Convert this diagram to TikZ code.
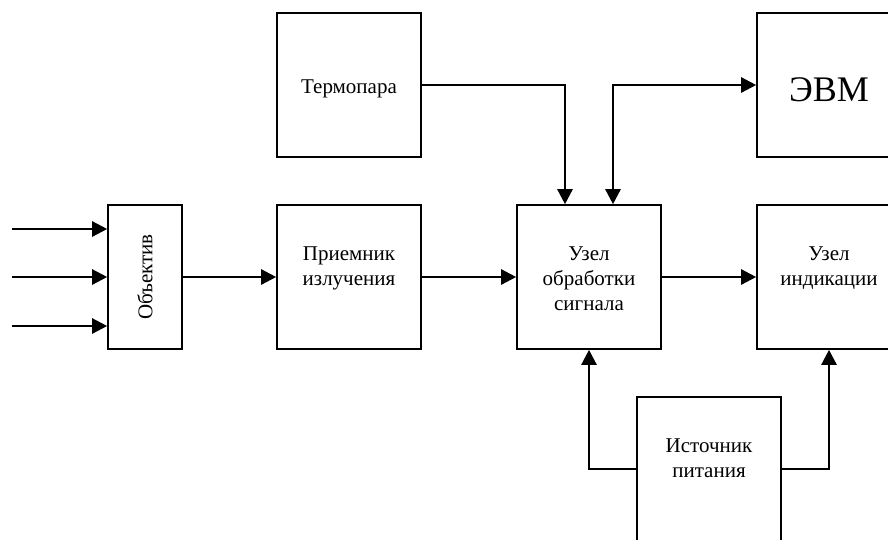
\documentclass[tikz,border=0pt]{standalone}
\usepackage{fontspec}
\setmainfont{Liberation Serif}
\usetikzlibrary{arrows.meta,positioning}
\begin{document}
\begin{tikzpicture}[x=1pt, y=-1pt,
  blk/.style={draw, line width=1.6pt, minimum width=144pt, minimum height=144pt, inner sep=0pt},
  txt/.style={align=center, inner sep=0pt, font=\fontsize{21}{25}\selectfont},
  con/.style={line width=2.4pt, -{Triangle[length=15pt, width=15pt]}}]
\useasboundingbox (0,0) rectangle (888,539);
\node[blk, minimum width=74pt] (obj) at (145,277){};
\node[txt, rotate=90] (objt) at (obj.center){Объектив};
\node[blk] (pr) at (349,277){};
\node[txt, below=42pt of pr.north] (prt){Приемник\\излучения};
\node[blk] (uz) at (589,277){};
\node[txt, below=42pt of uz.north] (uzt){Узел\\обработки\\сигнала};
\node[blk] (ind) at (829,277){};
\node[txt, below=42pt of ind.north] (indt){Узел\\индикации};
\node[blk] (term) at (349,85){};
\node[txt, below=67pt of term.north] (termt){Термопара};
\node[blk] (evm) at (829,85){};
\node[txt, font=\fontsize{36}{40}\selectfont, below=65pt of evm.north] (evmt){ЭВМ};
\node[blk] (ist) at (709,469){};
\node[txt, below=42pt of ist.north] (istt){Источник\\питания};
% входные лучи
\foreach \i/\y in {1/229, 2/277, 3/326}{
  \coordinate (in\i) at (12,\y);
  \draw[con] (in\i) -- (in\i -| obj.west);
}
\draw[con] (obj) -- (pr);
\draw[con] (pr) -- (uz);
\draw[con] (uz) -- (ind);
\draw[con] (term.east) -| ([xshift=-24pt]uz.north);
\draw[con, {Triangle[length=15pt, width=15pt]}-{Triangle[length=15pt, width=15pt]}] ([xshift=24pt]uz.north) |- (evm.west);
\draw[con] (ist.west) -| (uz.south);
\draw[con] (ist.east) -| (ind.south);
\end{tikzpicture}
\end{document}
